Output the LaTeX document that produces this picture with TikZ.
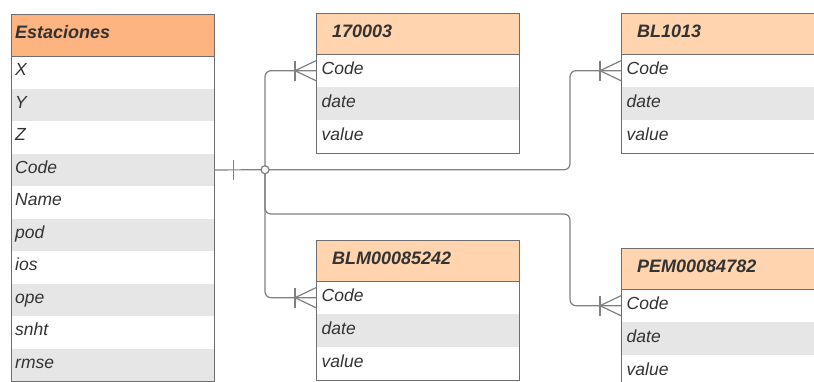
\documentclass[tikz,border=0pt]{standalone}
\usepackage{fontspec}
\setmainfont{Liberation Sans}
\definecolor{hdrA}{RGB}{253,180,128}
\definecolor{hdrB}{RGB}{255,212,174}
\definecolor{rowgray}{RGB}{230,230,230}
\definecolor{bordc}{RGB}{110,110,110}
\definecolor{txtc}{RGB}{51,51,51}
\definecolor{linec}{RGB}{128,128,128}
\tikzset{
  cellbox/.style={anchor=north west, inner sep=0pt, draw=none},
  hdrtext/.style={anchor=west, inner sep=0pt, text height=11pt, text depth=4pt, text=txtc, font=\fontsize{18}{20}\selectfont\bfseries\itshape},
  rowtext/.style={anchor=west, inner sep=0pt, text height=11pt, text depth=4pt, text=txtc, font=\fontsize{17.5}{20}\selectfont\itshape},
  conn/.style={draw=linec, line width=1.2pt, rounded corners=6pt},
  tickline/.style={draw=linec, line width=1.2pt},
  jct/.style={circle, draw=linec, line width=1.2pt, fill=white, inner sep=0pt, minimum size=8pt}
}
% #1 name, #2 x, #3 y, #4 width, #5 header h, #6 row h, #7 header fill, #8 header text, #9 rows
\newcommand{\ertab}[9]{%
  \node[cellbox, fill=#7, minimum width=#4, minimum height=#5] (#1-h) at (#2,#3) {};
  \foreach \t [count=\i] in {#9} {
    \pgfmathtruncatemacro{\odd}{mod(\i,2)}
    \ifnum\odd=1 \def\fc{white}\else\def\fc{rowgray}\fi
    \node[cellbox, fill=\fc, minimum width=#4, minimum height=#6] (#1-\i) at ({#2},{#3+#5+(\i-1)*#6}) {};
    \node[rowtext] (#1-\i t) at ([xshift=\rowx]#1-\i.west) {\t};
    \xdef\lastrow{\i}
  }
  \draw[bordc, line width=0.9pt] (#1-h.south west) -- (#1-h.south east);
  \draw[bordc, line width=0.9pt] (#1-h.north west) rectangle (#1-\lastrow.south east);
  \node[hdrtext] (#1-ht) at ([xshift=\hdrx]#1-h.west) {#8};
}
\begin{document}
\begin{tikzpicture}[x=1pt,y=-1pt]
\useasboundingbox (0,0) rectangle (814,381);
\clip (0,0) rectangle (814,381);
\fill[white] (0,0) rectangle (814,381);

\def\hdrx{4pt}\def\rowx{4pt}
\ertab{est}{11}{14}{203}{42}{32.5}{hdrA}{Estaciones}{X,Y,Z,Code,Name,pod,ios,ope,snht,rmse}
\def\hdrx{16pt}\def\rowx{5.5pt}
\ertab{ta}{316}{13}{203}{41}{33}{hdrB}{170003}{Code,date,value}
\ertab{tb}{621}{13}{203}{41}{33}{hdrB}{BL1013}{Code,date,value}
\ertab{tc}{316}{240}{203}{41}{33}{hdrB}{BLM00085242}{Code,date,value}
\ertab{td}{621}{248}{203}{41}{33}{hdrB}{PEM00084782}{Code,date,value}

% junction
\coordinate (j) at (265,169.75);
\coordinate (r1) at (570,169.75);
\coordinate (r2) at (570,214);
\coordinate (l2) at (265,214);

\draw[conn] (j) |- (ta-1.west);
\draw[conn] (j) -- (r1) |- (tb-1.west);
\draw[conn] (j) |- (tc-1.west);
\draw[conn] (j) -- (l2) -- (r2) |- (td-1.west);
\draw[conn] (est-4.east) -- (j);
% one bar at Estaciones side
\draw[tickline] ([xshift=19pt,yshift=10pt]est-4.east) -- ([xshift=19pt,yshift=-10pt]est-4.east);
% crow's feet
\foreach \n in {ta-1,tb-1,tc-1,td-1} {
  \draw[tickline] ([xshift=-21pt,yshift=10pt]\n.west) -- ([xshift=-21pt,yshift=-10pt]\n.west);
  \draw[tickline] ([yshift=10pt]\n.west) -- ([xshift=-21pt]\n.west) -- ([yshift=-10pt]\n.west);
}
\node[jct] (jc) at (j) {};
\end{tikzpicture}
\end{document}
